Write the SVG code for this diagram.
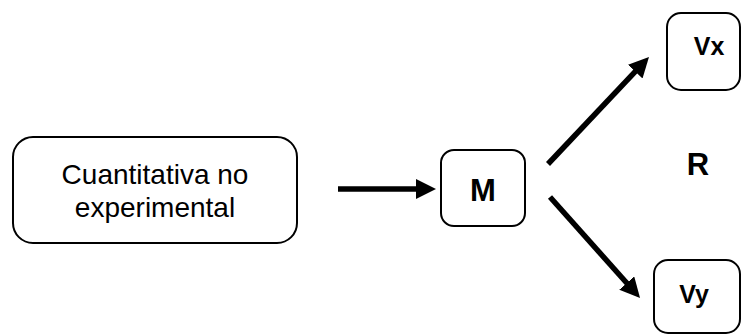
<svg xmlns="http://www.w3.org/2000/svg" width="742" height="335" viewBox="0 0 742 335">
  <defs>
    <marker id="head" markerUnits="userSpaceOnUse" markerWidth="20" markerHeight="20" refX="4" refY="10" orient="auto">
      <path d="M0,0 L20,10 L0,20 z" fill="#000"/>
    </marker>
    <style>
      .box { fill: #fff; stroke: #000; stroke-width: 2; }
      .plain { font-family: "Liberation Sans", Arial, sans-serif; font-size: 28px; fill: #000; text-anchor: middle; }
      .bold { font-family: "Liberation Sans", Arial, sans-serif; font-weight: bold; fill: #000; text-anchor: middle; }
      .conn { stroke: #000; stroke-width: 5.5; fill: none; marker-end: url(#head); }
    </style>
  </defs>
  <rect width="742" height="335" fill="#fff"/>

  <g id="connectors">
    <line class="conn" x1="338" y1="189" x2="420" y2="189"/>
    <line class="conn" x1="548" y1="164" x2="638" y2="68.7"/>
    <line class="conn" x1="550" y1="197" x2="629.4" y2="286"/>
  </g>

  <g id="node-cuantitativa">
    <rect class="box" x="13" y="137" width="284" height="106" rx="20"/>
    <text class="plain" x="155" y="184">Cuantitativa no</text>
    <text class="plain" x="155" y="217">experimental</text>
  </g>

  <g id="node-m">
    <rect class="box" x="441" y="150" width="84" height="76" rx="13"/>
    <text class="bold" x="483" y="201" font-size="31">M</text>
  </g>

  <g id="node-vx">
    <rect class="box" x="667" y="13" width="73" height="77" rx="14"/>
    <text class="bold" x="709" y="55" font-size="25">Vx</text>
  </g>

  <g id="node-vy">
    <rect class="box" x="654" y="260" width="86" height="73" rx="14"/>
    <text class="bold" x="694" y="303" font-size="25">Vy</text>
  </g>

  <g id="label-r">
    <text class="bold" x="698" y="175" font-size="31">R</text>
  </g>
</svg>
